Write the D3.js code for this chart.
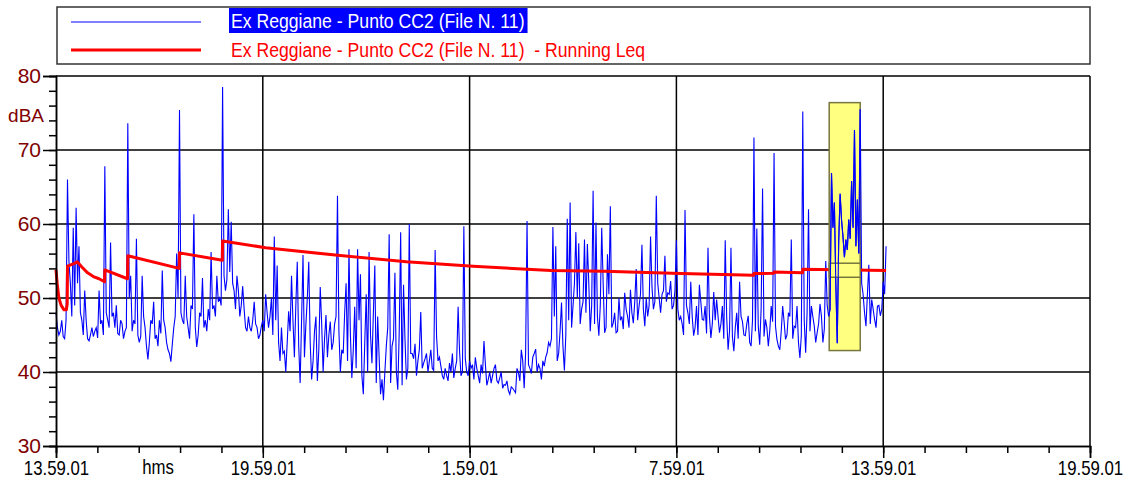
<!DOCTYPE html>
<html lang="en">
<head>
<meta charset="UTF-8">
<title>Ex Reggiane - Punto CC2</title>
<script src="https://cdn.jsdelivr.net/npm/d3@7"></script>
<style>
body { margin: 0; background: #fff; }
svg { display: block; }
text { font-family: "Liberation Sans", Arial, sans-serif; }
</style>
</head>
<body>
<script>
// series names shown in the legend
const seriesName = "Ex Reggiane - Punto CC2 (File N. 11)"
const leqName = "Ex Reggiane - Punto CC2 (File N. 11)  - Running Leq"
const unitY = "dBA"
const unitX = "hms"

// start of the record: 13.59.01, one level every 2.5 minutes
const startMinute = 13 * 60 + 59
const stepMin = 2.5

// dBA on the 5 minute marks
const levelsOnMark = [
  48, 45, 47, 44.5, 66, 52, 59.5, 62.2, 57, 47, 51, 44.5, 45, 44.8, 46, 51, 47, 67.8, 47, 57.5,
  48, 49, 45, 46.5, 45.5, 73.6, 53, 47, 58, 44, 53, 46, 41.7, 47, 49.5, 45, 47, 53.7, 46, 43,
  41.4, 46, 56, 75.4, 47, 53, 46, 49, 61.3, 43.4, 48, 52.7, 47, 48.5, 56.2, 49, 53, 50, 78.5, 51,
  62, 60.3, 51, 53, 47.5, 51.6, 46, 47.5, 45.5, 49.5, 46, 45, 47, 50.5, 46, 50, 58.3, 54.4, 41.5, 42.5,
  40, 48.2, 53, 42, 54.9, 38.5, 55.8, 46.4, 54.9, 39, 45.5, 38.8, 51.5, 40, 47.7, 45, 43, 46.5, 63.8, 40,
  42.5, 52, 56.6, 39.2, 48.8, 56.6, 53.2, 37, 50.5, 56.2, 41.2, 54.4, 47.5, 37, 36.2, 43.5, 58.6, 43.5, 53.4, 37.6,
  58.9, 51.8, 39, 60, 42.5, 43.8, 41.5, 48.1, 41.2, 42.5, 41.5, 40.5, 56.5, 41.5, 40.8, 39, 39.5, 41.2, 42.5, 40.5,
  48.8, 39.5, 59.7, 40, 41.5, 41, 42, 39.5, 41, 44.2, 38.2, 40, 39.5, 41, 38.5, 40, 38.3, 38.8, 37, 37.8,
  37.2, 39.9, 43, 37.8, 60.4, 40.5, 42, 43.1, 41, 39, 40.8, 42.6, 43.5, 59.6, 57, 42.5, 49.4, 40.2, 60.7, 62.9,
  48.9, 58.9, 57.4, 48.5, 57.9, 57.3, 45.5, 64.5, 60.2, 44.9, 59.5, 45.3, 55.9, 62.4, 46.6, 45.3, 50, 47.5, 50.7, 47.5,
  51.1, 46.6, 53.9, 48.9, 57.2, 46.2, 47.5, 58.3, 48.5, 63.8, 50, 50.5, 55.7, 50.7, 52.3, 49, 57.8, 47, 46.5, 61.9,
  48, 52.2, 44.9, 48.9, 51.8, 47.1, 48.9, 56.8, 44.6, 50.8, 49.8, 45.3, 48.9, 57.8, 43, 56.8, 42.8, 48, 52.2, 46.8,
  44.9, 47.6, 43.5, 71.7, 59.4, 43.7, 64.8, 47.1, 43.5, 48.9, 69.6, 44.4, 43, 48.9, 44.4, 48, 57.9, 46.2, 48.9, 41.9,
  75.2, 42.6, 62, 48.9, 46.2, 45.3, 49.2, 44, 55, 47.5, 66.9, 62.9, 43.9, 64.1, 58.3, 57.9, 60.6, 65.8, 72.7, 63.3,
  75.5, 50.5, 46.2, 54.5, 49.8, 47.1, 48.9, 47.6, 52.2, 57
]
// dBA half way between the marks (2.5 minutes later)
const levelsBetween = [
  46, 45.5, 44.8, 47, 55, 47.5, 49, 52, 48, 45, 47, 44.2, 46, 45.5, 44.6, 46.5, 45, 48, 46, 47.5,
  46, 45.2, 47, 44.5, 46, 50, 45.5, 46.5, 45, 44.8, 47.5, 43.5, 44, 46.5, 44.5, 43.5, 45.2, 47, 44, 42.5,
  43.8, 47.5, 50, 48, 46.5, 47.5, 44.5, 48.5, 46, 45, 47.5, 46, 45.5, 47, 48.5, 47.5, 49.5, 49, 53, 52.5,
  53.5, 52, 48.5, 51, 49, 48.5, 45.5, 46, 47, 46.5, 44.5, 46.2, 45.5, 48, 47.5, 45, 47, 44, 46, 42.8,
  44, 45.5, 47, 49, 43.5, 47, 42, 50, 44, 41.5, 47.5, 43, 46.5, 44.5, 42, 46.8, 44, 47.5, 45.5, 43,
  48, 41.5, 45, 43, 40.5, 47, 39.5, 44, 40, 45, 48, 38.5, 42, 39, 40, 46, 38.5, 44.5, 40, 45.5,
  38.2, 44.5, 40.5, 42.5, 41.8, 39.5, 43, 40.5, 41.8, 40, 43, 40.2, 44.8, 42, 39.5, 40.5, 38.8, 40, 39.2, 41.5,
  42.8, 40, 41.8, 39.5, 40.5, 39, 40.5, 38.5, 39.8, 41, 39, 38.5, 40.5, 38.8, 39.2, 37.8, 38.2, 37.5, 38, 37.5,
  40.5, 38.8, 41.5, 42.5, 41, 39.8, 42.5, 40, 40.5, 41.5, 42, 44, 44.5, 47.5, 41.5, 45.5, 43.5, 45, 47, 46,
  52, 50, 46.5, 49.5, 48, 52, 49, 46.5, 47.5, 49, 52, 46, 50.5, 46, 48, 45.5, 47, 45.8, 48.5, 46,
  48, 49.5, 47, 50.5, 48.5, 50, 49, 51.5, 49.5, 52, 48, 51, 49.5, 50.5, 48.5, 51, 48.5, 47.5, 45, 49,
  46.5, 47.5, 46, 45, 49.5, 47, 45.2, 47.5, 46.5, 47, 47.5, 46.5, 44.5, 47.5, 45.5, 44.8, 46, 44.5, 47.5, 45,
  46.5, 44, 47, 45.5, 46.2, 48.5, 44.8, 46, 45.5, 46.8, 46.2, 43.5, 45.5, 46.8, 45, 47.5, 44.5, 46, 44, 45,
  47, 48, 45.5, 47.5, 44, 46.5, 47.5, 45.8, 49, 48.5, 59.5, 52, 57.5, 60.5, 55.5, 56.5, 58, 59.5, 57, 56,
  52, 48, 50.5, 46.5, 48.5, 46, 49, 48.5, 50.5
]
const levels = d3.merge(levelsOnMark.map((v, i) => i < levelsBetween.length ? [v, levelsBetween[i]] : [v]))

// running Leq, minutes from start and dBA
const leqMinutes = [0, 2, 5, 9, 14, 18, 19.5, 20, 30, 37, 45, 55, 65, 75, 84.5, 85, 124.5, 125, 214.5, 215,
  289.5, 290, 365, 486, 610, 726, 862, 954, 1088, 1214.5, 1215, 1249.5, 1250, 1299.5, 1300, 1445]
const leqValues = [53.8, 52.0, 50.0, 49.0, 48.4, 48.4, 49.2, 54.3, 54.6, 54.9, 54.2, 53.4, 52.9, 52.6, 52.2, 53.8, 52.6, 55.7, 54.0, 56.1,
  55.1, 57.7, 56.8, 55.8, 54.9, 54.3, 53.7, 53.6, 53.3, 53.07, 53.3, 53.35, 53.5, 53.4, 53.9, 53.7]

// axes
const yMajor = [30, 40, 50, 60, 70, 80]
const yMinor = d3.range(30, 81, 2)
const xMajor = [0, 360, 720, 1080, 1440, 1800]
const xMinor = d3.range(0, 1801, 72)

// highlighted selection (minutes, dBA) and the cursor band
const markMinutes = [1346, 1400]
const markLevels = [42.9, 76.4]
const cursorLevels = [52.8, 54.7]

const W = 1130, H = 484
const narrow = 0.84
const svg = d3.select("body").append("svg").attr("width", W).attr("height", H)

const x = d3.scaleLinear().domain([0, 1800]).range([56, 1090])
const y = d3.scaleLinear().domain([30, 80]).range([446, 76])

const fmtTime = m => {
  const t = startMinute + m
  const h = Math.floor(t / 60) % 24
  const mm = t % 60
  return h + "." + String(mm).padStart(2, "0") + ".01"
}

// grid
const grid = svg.append("g").attr("stroke", "#000").attr("stroke-width", 1.5)
grid.selectAll(".gx").data(xMajor.slice(1)).enter().append("line")
  .attr("x1", d => x(d)).attr("x2", d => x(d))
  .attr("y1", y(30)).attr("y2", y(80))
grid.selectAll(".gy").data(yMajor.slice(1)).enter().append("line")
  .attr("x1", x(0)).attr("x2", x(1800))
  .attr("y1", d => y(d)).attr("y2", d => y(d))

// selection box
svg.append("rect")
  .attr("x", x(markMinutes[0])).attr("width", x(markMinutes[1]) - x(markMinutes[0]))
  .attr("y", y(markLevels[1])).attr("height", y(markLevels[0]) - y(markLevels[1]))
  .attr("fill", "#ffff80").attr("stroke", "#77773f").attr("stroke-width", 1.5)

const blueLine = d3.line().x((d, i) => x(i * stepMin)).y(d => y(d))
svg.append("path").datum(levels)
  .attr("d", blueLine).attr("fill", "none").attr("stroke", "#0000ff").attr("stroke-width", 1.1)

const leqLine = d3.line().x(d => x(d[0])).y(d => y(d[1]))
svg.append("path").datum(leqMinutes.map((m, i) => [m, leqValues[i]]))
  .attr("d", leqLine).attr("fill", "none").attr("stroke", "#ff0000").attr("stroke-width", 3)
  .attr("stroke-linejoin", "round")

svg.append("rect")
  .attr("x", x(markMinutes[0])).attr("width", x(markMinutes[1]) - x(markMinutes[0]))
  .attr("y", y(cursorLevels[1])).attr("height", y(cursorLevels[0]) - y(cursorLevels[1]))
  .attr("fill", "#ffff80").attr("stroke", "#77773f").attr("stroke-width", 1.5)

// blue stays on top inside the selection
svg.append("clipPath").attr("id", "markclip").append("rect")
  .attr("x", x(markMinutes[0])).attr("width", x(markMinutes[1]) - x(markMinutes[0]))
  .attr("y", y(markLevels[1])).attr("height", y(markLevels[0]) - y(markLevels[1]))
svg.append("path").datum(levels).attr("clip-path", "url(#markclip)")
  .attr("d", blueLine).attr("fill", "none").attr("stroke", "#0000ff").attr("stroke-width", 1.1)

// x axis
svg.append("g").attr("transform", `translate(0,${y(30)})`)
  .call(d3.axisBottom(x).tickValues(xMinor).tickSize(7).tickFormat(""))
const xAxis = svg.append("g").attr("transform", `translate(0,${y(30)})`)
  .call(d3.axisBottom(x).tickValues(xMajor).tickSize(12).tickPadding(3).tickFormat(fmtTime))
xAxis.attr("font-family", null).attr("font-size", 20)
xAxis.selectAll("text").attr("fill", "#000").attr("transform", `scale(${narrow},1)`)
svg.append("text").attr("transform", `translate(158,474) scale(${narrow},1)`)
  .attr("text-anchor", "middle").attr("font-size", 20).text(unitX)

// y axis
svg.append("g").attr("transform", `translate(${x(0)},0)`)
  .call(d3.axisLeft(y).tickValues(yMinor).tickSize(7).tickFormat(""))
const yAxis = svg.append("g").attr("transform", `translate(${x(0)},0)`)
  .call(d3.axisLeft(y).tickValues(yMajor).tickSize(13).tickPadding(2))
yAxis.attr("font-family", null).attr("font-size", 21)
yAxis.selectAll("text").attr("fill", "#800000")
svg.append("text").attr("x", 44).attr("y", 122).attr("text-anchor", "end")
  .attr("font-size", 19).attr("fill", "#800000").text(unitY)

svg.selectAll(".domain, .tick line").attr("stroke", "#000").attr("stroke-width", 1.5)

// legend
const legend = svg.append("g")
legend.append("rect").attr("x", 57).attr("y", 7).attr("width", 1033).attr("height", 57)
  .attr("fill", "none").attr("stroke", "#333").attr("stroke-width", 1.5)
legend.append("line").attr("x1", 71).attr("x2", 201).attr("y1", 22).attr("y2", 22)
  .attr("stroke", "#0000ff").attr("stroke-width", 1)
const hl = legend.append("rect").attr("fill", "#0000ff")
const t1 = legend.append("text").attr("transform", `translate(231,28) scale(${narrow},1)`)
  .attr("font-size", 21).attr("fill", "#fff").text(seriesName)
const bb = t1.node().getBBox()
hl.attr("x", 229).attr("y", 8).attr("width", bb.width * narrow + 5).attr("height", 25)
legend.append("line").attr("x1", 71).attr("x2", 201).attr("y1", 50).attr("y2", 50)
  .attr("stroke", "#ff0000").attr("stroke-width", 3)
legend.append("text").attr("transform", `translate(231,57) scale(${narrow},1)`)
  .attr("font-size", 21).attr("fill", "#ff0000").style("white-space", "pre").text(leqName)
</script>
</body>
</html>
